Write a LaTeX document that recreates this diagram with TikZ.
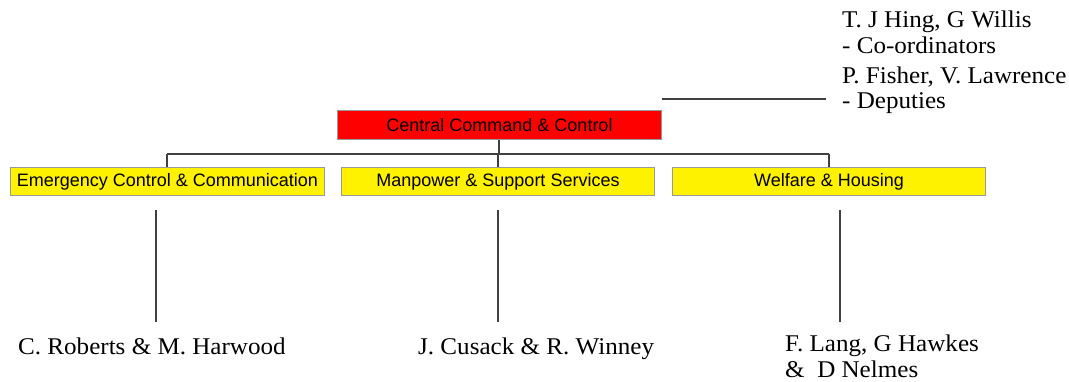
\documentclass[tikz,border=0pt]{standalone}
\usepackage{fontspec}
\setmainfont{Liberation Serif}
\setsansfont{Liberation Sans}
\newfontfamily\pplfont[FakeStretch=1.045]{Liberation Serif}
\begin{document}
\begin{tikzpicture}[x=1pt,y=-1pt,
  box/.style={draw=gray!80, line width=1pt, inner sep=0pt, anchor=north west, font=\sffamily\fontsize{18}{20}\selectfont},
  redbox/.style={box, fill=red},
  yelbox/.style={box, fill=yellow},
  conn/.style={draw=black!75, line width=1.3pt},
  ppl/.style={anchor=base west, inner sep=0pt, font=\pplfont\fontsize{24}{28}\selectfont, align=left}]
\useasboundingbox (0,0) rectangle (1069,382);
% boxes
\node[redbox, minimum width=324pt, minimum height=29pt] (cc) at (337,110) {Central Command \& Control};
\node[yelbox, minimum width=314pt, minimum height=28pt] (ecc) at (10,167) {Emergency Control \& Communication};
\node[yelbox, minimum width=313pt, minimum height=28pt] (mss) at (341,167) {Manpower \& Support Services};
\node[yelbox, minimum width=313pt, minimum height=28pt] (wh) at (672,167) {Welfare \& Housing};
% bus
\coordinate (bL) at (167,154);
\coordinate (bR) at (829,154);
\coordinate (bC) at (499,154);
\coordinate (bM) at (498,154);
\draw[conn] (cc.south -| bC) -- (bC);
\draw[conn] (bL) -- (bR);
\draw[conn] (bL) -- (bL |- ecc.north);
\draw[conn] (bM) -- (bM |- mss.north);
\draw[conn] (bR) -- (bR |- wh.north);
% texts
\node[ppl] (coord) at (842,28) {T. J Hing, G Willis};
\node[ppl] (coord2) at (842,54) {- Co-ordinators};
\node[ppl] (dep) at (842,84) {P. Fisher, V. Lawrence};
\node[ppl] (dep2) at (842,109) {- Deputies};
\coordinate (dl) at (662,99);
\coordinate (dr) at (826,99);
\draw[conn] (dl) -- (dr);
\node[ppl] (n1) at (18,354) {C. Roberts \& M. Harwood};
\node[ppl] (n2) at (418,354) {J. Cusack \& R. Winney};
\node[ppl] (n3) at (785,351) {F. Lang, G Hawkes};
\node[ppl] (n3b) at (785,377) {\&\ \ D Nelmes};
% lower lines
\coordinate (l1t) at (156,210); \coordinate (l1b) at (156,322);
\coordinate (l2t) at (498,210); \coordinate (l2b) at (498,322);
\coordinate (l3t) at (840,210); \coordinate (l3b) at (840,322);
\draw[conn] (l1t) -- (l1b);
\draw[conn] (l2t) -- (l2b);
\draw[conn] (l3t) -- (l3b);
\end{tikzpicture}
\end{document}
